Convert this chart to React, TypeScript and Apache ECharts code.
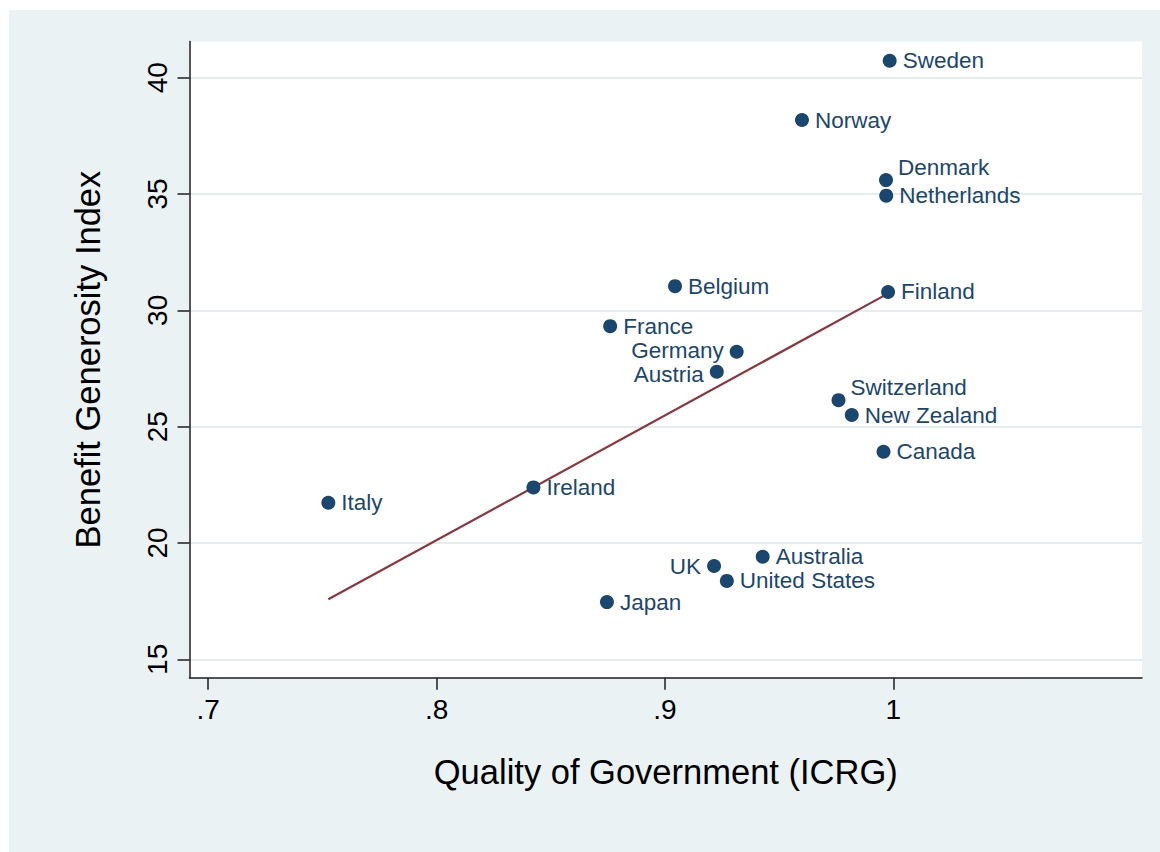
import React, { useEffect, useRef } from "react";
import * as echarts from "echarts";

const countries = [
  "Sweden", "Norway", "Denmark", "Netherlands", "Finland", "Belgium", "France",
  "Germany", "Austria", "Switzerland", "New Zealand", "Canada", "Italy", "Ireland",
  "Australia", "UK", "United States", "Japan",
];
const qualityOfGov = [
  0.9984, 0.960, 0.9968, 0.9969, 0.9977, 0.9044, 0.876,
  0.9314, 0.9227, 0.976, 0.9818, 0.9957, 0.7526, 0.8424,
  0.9428, 0.9215, 0.9271, 0.8746,
];
const benefitIndex = [
  40.73, 38.18, 35.6, 34.93, 30.79, 31.04, 29.32,
  28.22, 27.36, 26.14, 25.5, 23.92, 21.73, 22.39,
  19.41, 19.01, 18.37, 17.46,
];
const fitX = [0.7526, 0.998];
const fitY = [17.58, 30.74];
const xTicks = [0.7, 0.8, 0.9, 1];
const yTicks = [15, 20, 25, 30, 35, 40];

const leftLabelled = ["Germany", "Austria", "UK"];
const upperRightLabelled = ["Denmark", "Switzerland"];

const NAVY = "#1a476f";
const MAROON = "#90353b";
const BG = "#eaf2f3";
const FONT = "'Liberation Sans', Arial, Helvetica, sans-serif";

export default function App() {
  const ref = useRef<HTMLDivElement>(null);
  useEffect(() => {
    if (!ref.current) return;
    const chart = echarts.init(ref.current, undefined, { renderer: "svg" });
    const points = countries.map((name, i) => {
      const item: any = { name, value: [qualityOfGov[i], benefitIndex[i]] };
      if (leftLabelled.includes(name)) {
        item.label = { position: "left" };
      }
      return item;
    });
    const fmtX = (v: number) => (v >= 1 ? "1" : String(v).replace(/^0/, ""));
    chart.setOption({
      animation: false,
      backgroundColor: BG,
      textStyle: { fontFamily: FONT },
      grid: {
        left: 180.5,
        top: 31.5,
        right: 18,
        bottom: 174.3,
        show: true,
        backgroundColor: "#ffffff",
        borderWidth: 0,
      },
      xAxis: {
        type: "value",
        min: 0.6918,
        max: 1.1089,
        name: "Quality of Government (ICRG)",
        nameLocation: "middle",
        nameGap: 77,
        nameTextStyle: { fontSize: 34.5, color: "#000", fontFamily: FONT },
        axisLine: { show: true, onZero: false, lineStyle: { color: "#1e1e1e", width: 1.5 } },
        axisTick: { show: true, inside: false, length: 12, customValues: xTicks, lineStyle: { color: "#1e1e1e", width: 1.5 } },
        axisLabel: { show: true, customValues: xTicks, formatter: fmtX, fontSize: 28, color: "#000", margin: 18, fontFamily: FONT },
        splitLine: { show: false },
      },
      yAxis: {
        type: "value",
        min: 14.21,
        max: 41.556,
        name: "Benefit Generosity Index",
        nameLocation: "middle",
        nameGap: 84,
        nameTextStyle: { fontSize: 34.5, color: "#000", fontFamily: FONT },
        axisLine: { show: true, onZero: false, lineStyle: { color: "#1e1e1e", width: 1.5 } },
        axisTick: { show: true, inside: false, length: 12, customValues: yTicks, lineStyle: { color: "#1e1e1e", width: 1.5 } },
        axisLabel: { show: true, customValues: yTicks, rotate: 90, fontSize: 28, color: "#000", margin: 18, fontFamily: FONT },
        splitLine: { show: false },
      },
      series: [
        {
          type: "line",
          name: "grid",
          data: [],
          z: 0,
          silent: true,
          markLine: {
            silent: true,
            z: 0,
            symbol: "none",
            label: { show: false },
            lineStyle: { color: "#e5edef", width: 2, type: "solid" },
            data: yTicks.map((v) => ({ yAxis: v })),
          },
        },
        {
          type: "line",
          name: "fit",
          data: fitX.map((x, i) => [x, fitY[i]]),
          showSymbol: false,
          symbol: "none",
          z: 2,
          lineStyle: { color: MAROON, width: 2.2 },
          silent: true,
        },
        {
          type: "scatter",
          name: "countries",
          data: points,
          symbol: "circle",
          symbolSize: 14,
          z: 3,
          itemStyle: { color: NAVY, opacity: 1 },
          label: {
            show: true,
            position: "right",
            distance: 6,
            formatter: "{b}",
            fontSize: 22.5,
            color: NAVY,
            fontFamily: FONT,
          },
          labelLayout: (params: any) => {
            const name = countries[params.dataIndex];
            if (upperRightLabelled.includes(name)) {
              return { dx: -1, dy: -13, hideOverlap: false };
            }
            if (name === "Austria") {
              return { dy: 3, hideOverlap: false };
            }
            if (name === "Germany") {
              return { dy: -1, hideOverlap: false };
            }
            return { hideOverlap: false };
          },
        },
      ],
    });
    return () => chart.dispose();
  }, []);
  return (
    <div
      ref={ref}
      style={{ position: "absolute", left: 9, top: 10, width: 1151, height: 842 }}
    />
  );
}
